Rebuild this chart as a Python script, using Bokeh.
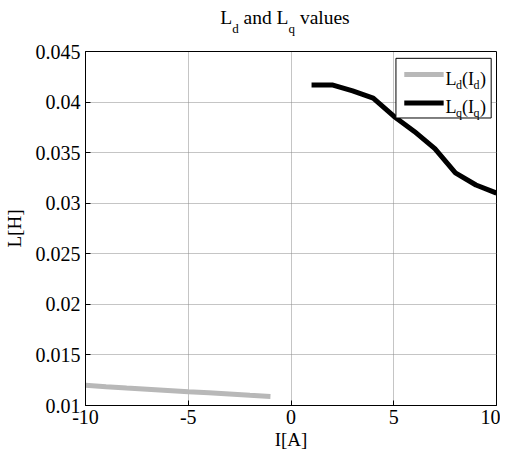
from bokeh.plotting import figure
from bokeh.layouts import column
from bokeh.models import (Range1d, FixedTicker, CustomJSTickFormatter, Label,
                          BoxAnnotation, Div)
from bokeh.embed import file_html
from bokeh.resources import INLINE

# ---- data ----
id_vals = [-10, -9, -8, -7, -6, -5, -4, -3, -2, -1]
ld_vals = [0.0120, 0.01185, 0.01172, 0.0116, 0.01148, 0.01136, 0.01125, 0.01113, 0.01101, 0.0109]
iq_vals = [1, 2, 3, 4, 5, 6, 7, 8, 9, 10]
lq_vals = [0.0417, 0.0417, 0.0411, 0.0404, 0.0386, 0.0371, 0.0354, 0.0330, 0.0318, 0.0310]
x_ticks = [-10, -5, 0, 5, 10]
y_ticks = [0.01, 0.015, 0.02, 0.025, 0.03, 0.035, 0.04, 0.045]

FONT = "Liberation Serif"
GRAY = "#b8b8b8"

SUB = '<span style="font-size:13px;line-height:13px;vertical-align:-9px">%s</span>'
title_html = (
    '<div style="width:410px;margin-left:75px;text-align:center;'
    'font-family:\'Liberation Serif\';font-size:19.5px;line-height:26px;color:black;'
    'white-space:nowrap">'
    'L' + SUB % 'd' + ' and L' + SUB % 'q' + '&nbsp;values</div>'
)
title_div = Div(text=title_html, width=500, height=30)

p = figure(width=500, height=412, output_backend="svg", toolbar_location=None,
           x_range=Range1d(-10, 10), y_range=Range1d(0.01, 0.045),
           min_border_left=78, min_border_right=4, min_border_top=11,
           min_border_bottom=47)
p.background_fill_color = "white"
p.outline_line_color = "black"
p.outline_line_width = 1

p.line(id_vals, ld_vals, line_color=GRAY, line_width=5)
p.line(iq_vals, lq_vals, line_color="black", line_width=5)

for ax in (p.xaxis[0], p.yaxis[0]):
    ax.major_tick_in = 5
    ax.major_tick_out = 0
    ax.minor_tick_line_color = None
    ax.axis_line_color = "black"
    ax.major_tick_line_color = "black"
    ax.major_label_text_font = FONT
    ax.major_label_text_color = "black"
    ax.major_label_text_font_size = "20px"
    ax.axis_label_text_font = FONT
    ax.axis_label_text_font_size = "19px"
    ax.axis_label_text_font_style = "normal"
    ax.axis_label_text_color = "black"

p.xaxis.ticker = FixedTicker(ticks=x_ticks)
p.yaxis.ticker = FixedTicker(ticks=y_ticks)
p.xaxis.formatter = CustomJSTickFormatter(code="return tick.toFixed(0);")
p.yaxis.formatter = CustomJSTickFormatter(
    code="return tick.toFixed(3).replace(/0+$/, '');")
p.xaxis.major_label_standoff = 4
p.xaxis.axis_label = "I[A]"
p.xaxis.axis_label_standoff = 2
p.yaxis.major_label_standoff = 5
p.yaxis.axis_label = "L[H]"
p.yaxis.axis_label_standoff = 8

p.grid.grid_line_color = "#8a8a8a"
p.grid.grid_line_dash = "1 1"
p.grid.grid_line_width = 1


def piece(txt, x, y, xo, yo, size):
    p.add_layout(Label(x=x, y=y, x_offset=xo, y_offset=yo, text=txt,
                       text_font=FONT, text_font_size=size, text_color="black",
                       text_align="left", text_baseline="alphabetic"))


# ---- legend ----
p.add_layout(BoxAnnotation(left=5.107, right=9.741, top=0.044325, bottom=0.038426,
                           fill_color="white", fill_alpha=1, line_color="black",
                           line_width=1, line_alpha=1))
p.segment(x0=[5.512], x1=[7.429], y0=[0.042736], y1=[0.042736],
          line_color=GRAY, line_width=5, level="overlay")
p.segment(x0=[5.512], x1=[7.429], y0=[0.039916], y1=[0.039916],
          line_color="black", line_width=5, level="overlay")

for row_y, sub in ((-27.8, "d"), (-55.5, "q")):
    piece("L", 10, 0.045, -51, row_y, "18px")
    piece(sub, 10, 0.045, -40.5, row_y - 6, "12px")
    piece("(I", 10, 0.045, -34.5, row_y, "18px")
    piece(sub, 10, 0.045, -23, row_y - 6, "12px")
    piece(")", 10, 0.045, -16.5, row_y, "18px")

layout = column(title_div, p, spacing=0)
open("out.html", "w").write(file_html(layout, INLINE))
